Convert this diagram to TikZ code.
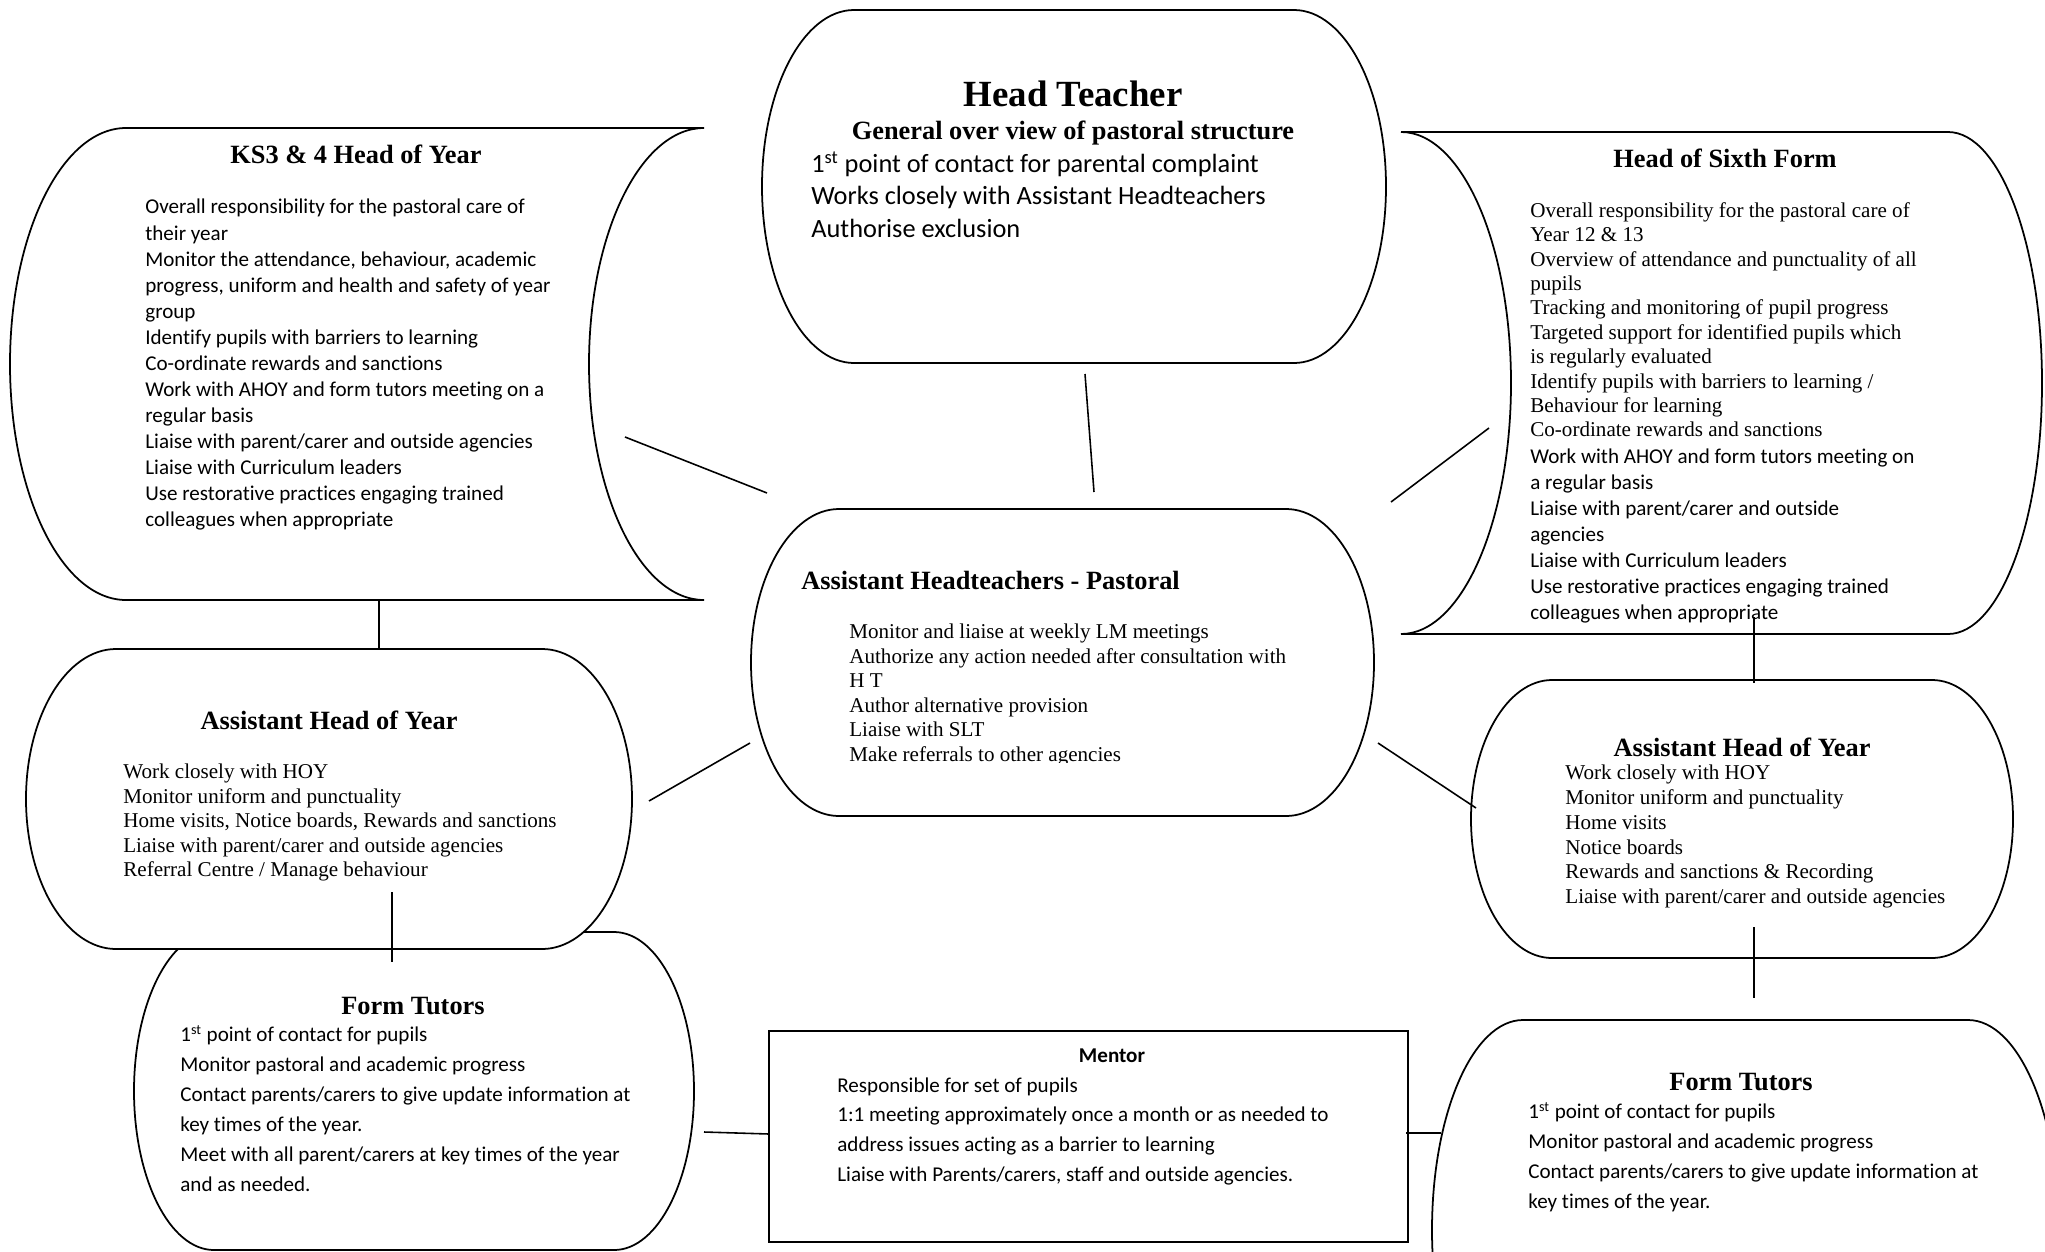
\documentclass[tikz,border=0pt]{standalone}
\usepackage{fontspec}
\setmainfont{Liberation Serif}
\newfontfamily\calibrifont[Ligatures=CommonOff]{Carlito}

% frame: left, top, right, bottom, corner radius (y measured downwards)
\newcommand{\pillframe}[5]{%
  \draw[boxline] (#1+#5,-#2) -- (#3-#5,-#2)
    arc[start angle=90, end angle=-90, x radius=#5, y radius={(#4-#2)/2}]
    -- (#1+#5,-#4)
    arc[start angle=270, end angle=90, x radius=#5, y radius={(#4-#2)/2}] -- cycle;}
% convex left side, hollow right side
\newcommand{\scrollframe}[6]{%
  \draw[boxline] (#1+#5,-#2) -- (#3,-#2)
    arc[start angle=90, end angle=270, x radius=#6, y radius={(#4-#2)/2}]
    -- (#1+#5,-#4)
    arc[start angle=270, end angle=90, x radius=#5, y radius={(#4-#2)/2}] -- cycle;}
% hollow left side, convex right side
\newcommand{\scrollframeflip}[6]{%
  \draw[boxline] (#1,-#2) -- (#3-#5,-#2)
    arc[start angle=90, end angle=-90, x radius=#5, y radius={(#4-#2)/2}]
    -- (#1,-#4)
    arc[start angle=-90, end angle=90, x radius=#6, y radius={(#4-#2)/2}] -- cycle;}

\tikzset{
  boxline/.style={draw=black, line width=1pt, fill=white},
  link/.style={draw=black, line width=0.9pt},
  boxtitle/.style={font=\bfseries\fontsize{15}{17}\selectfont, inner sep=0pt, anchor=base},
  serifbody/.style={font=\fontsize{12}{13.9}\selectfont, align=left, inner sep=0pt, anchor=north west},
  calibody/.style={font=\calibrifont\fontsize{12}{14.8}\selectfont, align=left, inner sep=0pt, anchor=north west},
  calibodywide/.style={font=\calibrifont\fontsize{12}{17}\selectfont, align=left, inner sep=0pt, anchor=north west}
}

\begin{document}
\begin{tikzpicture}[x=0.02cm, y=0.02cm]
\useasboundingbox (0,0) rectangle (2045,-1251);
\clip (0,0) rectangle (2045,-1251);

%Head Teacher
\pillframe{762}{10}{1386}{363}{92}
\node[boxtitle, font=\bfseries\fontsize{21}{24}\selectfont] (ht-title) at (1073,-106) {Head Teacher};
\node[boxtitle] (ht-sub) at (1073,-139) {General over view of pastoral structure};
\node[calibody, font=\calibrifont\fontsize{15}{18.5}\selectfont] (ht-text) at (811,-151)
  {1\textsuperscript{st} point of contact for parental complaint\\
   Works closely with Assistant Headteachers\\
   Authorise exclusion};

%KS3 & 4 Head of Year
\scrollframe{10}{128}{704}{600}{116}{115}
\node[boxtitle] (hoy-title) at (356,-163) {KS3 \& 4 Head of Year};
\node[calibody] (hoy-text) at (145,-199)
  {Overall responsibility for the pastoral care of\\
   their year\\
   Monitor the attendance, behaviour, academic\\
   progress, uniform and health and safety of year\\
   group\\
   Identify pupils with barriers to learning\\
   Co-ordinate rewards and sanctions\\
   Work with AHOY and form tutors meeting on a\\
   regular basis\\
   Liaise with parent/carer and outside agencies\\
   Liaise with Curriculum leaders\\
   Use restorative practices engaging trained\\
   colleagues when appropriate};

%Head of Sixth Form
\scrollframeflip{1401}{132}{2042}{634}{94}{110}
\node[boxtitle] (hsf-title) at (1725,-167) {Head of Sixth Form};
\node[serifbody] (hsf-text) at (1530,-202)
  {Overall responsibility for the pastoral care of\\
   Year 12 \& 13\\
   Overview of attendance and punctuality of all\\
   pupils\\
   Tracking and monitoring of pupil progress\\
   Targeted support for identified pupils which\\
   is regularly evaluated\\
   Identify pupils with barriers to learning /\\
   Behaviour for learning\\
   Co-ordinate rewards and sanctions};
\node[calibody] (hsf-more) at (1530,-448)
  {Work with AHOY and form tutors meeting on\\
   a regular basis\\
   Liaise with parent/carer and outside\\
   agencies\\
   Liaise with Curriculum leaders\\
   Use restorative practices engaging trained\\
   colleagues when appropriate};

%Assistant Headteachers
\pillframe{751}{509}{1374}{816}{88}
\node[boxtitle, anchor=base west] (aht-title) at (801,-589) {Assistant Headteachers - Pastoral};
\begin{scope}
\clip (760,-600) rectangle (1360,-762);
\node[serifbody] (aht-text) at (849,-624)
  {Monitor and liaise at weekly LM meetings\\
   Authorize any action needed after consultation with\\
   H T\\
   Author alternative provision\\
   Liaise with SLT\\
   Make referrals to other agencies};
\end{scope}

%Form Tutors (left), partly under the box above it
\pillframe{134}{932}{694}{1250}{80}
\node[boxtitle] (ftl-title) at (413,-1014) {Form Tutors};
\node[calibodywide] (ftl-text) at (180,-1025)
  {1\textsuperscript{st} point of contact for pupils\\
   Monitor pastoral and academic progress\\
   Contact parents/carers to give update information at\\
   key times of the year.\\
   Meet with all parent/carers at key times of the year\\
   and as needed.};

%Assistant Head of Year (left)
\pillframe{26}{649}{632}{949}{90}
\node[boxtitle] (ahoyl-title) at (329,-729) {Assistant Head of Year};
\node[serifbody] (ahoyl-text) at (123,-764)
  {Work closely with HOY\\
   Monitor uniform and punctuality\\
   Home visits, Notice boards, Rewards and sanctions\\
   Liaise with parent/carer and outside agencies\\
   Referral Centre / Manage behaviour};

%Assistant Head of Year (right)
\pillframe{1471}{680}{2013}{958}{81}
\node[boxtitle] (ahoyr-title) at (1742,-756) {Assistant Head of Year};
\node[serifbody, font=\fontsize{12}{14.05}\selectfont] (ahoyr-text) at (1565,-765)
  {Work closely with HOY\\
   Monitor uniform and punctuality\\
   Home visits\\
   Notice boards\\
   Rewards and sanctions \& Recording\\
   Liaise with parent/carer and outside agencies};

%Mentor
\draw[boxline] (769,-1031) rectangle (1408,-1242);
\node[boxtitle, font=\calibrifont\bfseries\fontsize{12}{14}\selectfont] (men-title) at (1112,-1062) {Mentor};
\node[calibodywide] (men-text) at (837,-1077)
  {Responsible for set of pupils\\
   1:1 meeting approximately once a month or as needed to\\
   address issues acting as a barrier to learning\\
   Liaise with Parents/carers, staff and outside agencies.};

%Form Tutors (right)
\pillframe{1432}{1020}{2059}{1440}{91}
\node[boxtitle] (ftr-title) at (1741,-1090) {Form Tutors};
\node[calibodywide] (ftr-text) at (1528,-1102)
  {1\textsuperscript{st} point of contact for pupils\\
   Monitor pastoral and academic progress\\
   Contact parents/carers to give update information at\\
   key times of the year.};

%connectors
\coordinate (ht-s) at (1085,-374);   \coordinate (aht-n) at (1094,-492);
\coordinate (hoy-e) at (625,-437);   \coordinate (aht-nw) at (767,-493);
\coordinate (hsf-w) at (1489,-428);  \coordinate (aht-ne) at (1391,-502);
\coordinate (hoy-s) at (379,-600);   \coordinate (ahoyl-n) at (379,-649);
\coordinate (aht-sw) at (750,-743);  \coordinate (ahoyl-e) at (649,-801);
\coordinate (aht-se) at (1378,-743); \coordinate (ahoyr-w) at (1476,-808);
\coordinate (hsf-s) at (1754,-617);  \coordinate (ahoyr-n) at (1754,-683);
\coordinate (ahoyl-s) at (392,-892); \coordinate (ftl-n) at (392,-962);
\coordinate (ahoyr-s) at (1754,-927);\coordinate (ftr-n) at (1754,-998);
\coordinate (ftl-e) at (704,-1132);  \coordinate (men-w) at (769,-1134);
\coordinate (men-e) at (1406,-1133); \coordinate (ftr-w) at (1441,-1133);
\foreach \a/\b in {ht-s/aht-n, hoy-e/aht-nw, hsf-w/aht-ne, hoy-s/ahoyl-n,
  aht-sw/ahoyl-e, aht-se/ahoyr-w, hsf-s/ahoyr-n, ahoyl-s/ftl-n,
  ahoyr-s/ftr-n, ftl-e/men-w, men-e/ftr-w}
  \draw[link] (\a) -- (\b);
\end{tikzpicture}
\end{document}
